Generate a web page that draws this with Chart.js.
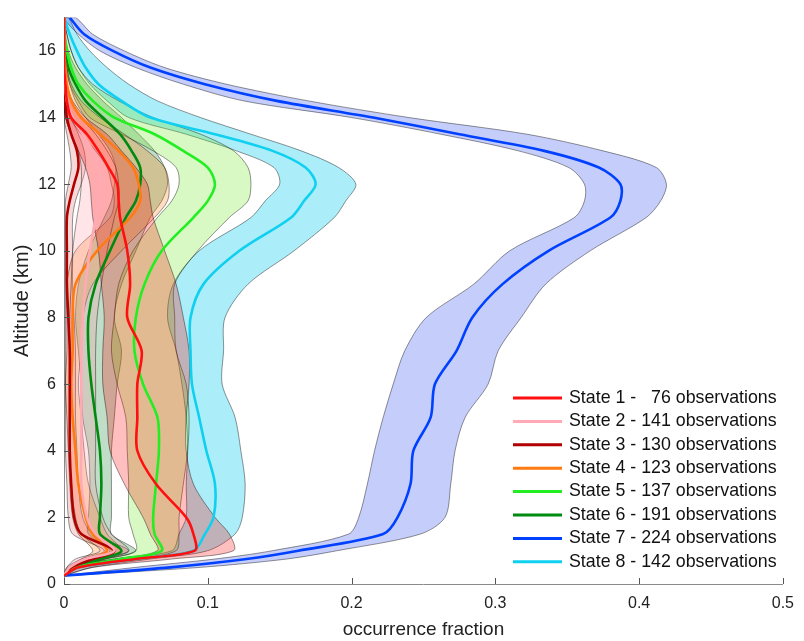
<!DOCTYPE html>
<html lang="en">
<head>
<meta charset="UTF-8" />
<title>Occurrence fraction vs altitude</title>
<script src="https://cdn.jsdelivr.net/npm/chart.js@4.4.1/dist/chart.umd.min.js"></script>
<style>
  html, body { margin: 0; padding: 0; background: #fff; }
  canvas { display: block; }
</style>
</head>
<body>
<canvas id="myChart" width="804" height="641"></canvas>
<script>
// altitude grid (km) shared by every profile
const altitude = [0.25, 0.5, 0.75, 1, 1.5, 2, 3, 4, 5, 6, 7, 8, 9, 10, 11, 11.5, 12, 12.5, 13, 13.5, 14, 14.5, 15, 15.5, 16, 16.5, 17];

// mean occurrence fraction per state, plus lower / upper edge of the shaded band
const state1Mean = [0, 0.01, 0.05, 0.091, 0.09, 0.085, 0.064, 0.051, 0.051, 0.051, 0.054, 0.044, 0.046, 0.044, 0.039, 0.038, 0.037, 0.031, 0.024, 0.016, 0.005, 0.002, 0.001, 0, 0, 0, 0];
const state1Low  = [0, 0.005, 0.035, 0.065, 0.06, 0.055, 0.042, 0.032, 0.03, 0.027, 0.027, 0.028, 0.026, 0.024, 0.02, 0.019, 0.018, 0.015, 0.01, 0.005, 0.001, 0, 0, 0, 0, 0, 0];
const state1High = [0, 0.02, 0.075, 0.118, 0.115, 0.105, 0.09, 0.085, 0.085, 0.087, 0.087, 0.083, 0.078, 0.07, 0.062, 0.06, 0.058, 0.05, 0.04, 0.03, 0.015, 0.006, 0.002, 0, 0, 0, 0];

const state2Mean = [0, 0.004, 0.015, 0.035, 0.022, 0.016, 0.012, 0.012, 0.012, 0.012, 0.012, 0.013, 0.015, 0.018, 0.022, 0.024, 0.025, 0.024, 0.02, 0.013, 0.006, 0.002, 0.001, 0, 0, 0, 0];
const state2Low  = [0, 0.002, 0.008, 0.025, 0.012, 0.008, 0.005, 0.004, 0.004, 0.004, 0.004, 0.004, 0.005, 0.006, 0.009, 0.011, 0.012, 0.012, 0.01, 0.005, 0.001, 0, 0, 0, 0, 0, 0];
const state2High = [0, 0.007, 0.022, 0.045, 0.033, 0.027, 0.022, 0.022, 0.022, 0.022, 0.022, 0.023, 0.026, 0.03, 0.035, 0.038, 0.038, 0.036, 0.03, 0.022, 0.012, 0.005, 0.002, 0.001, 0, 0, 0];

const state3Mean = [0, 0.005, 0.02, 0.035, 0.012, 0.007, 0.005, 0.004, 0.004, 0.004, 0.004, 0.003, 0.002, 0.002, 0.002, 0.004, 0.007, 0.01, 0.009, 0.005, 0.002, 0.001, 0, 0, 0, 0, 0];
const state3Low  = [0, 0.002, 0.012, 0.028, 0.006, 0.003, 0.002, 0.001, 0.001, 0.001, 0.001, 0.001, 0.001, 0.001, 0.001, 0.001, 0.003, 0.005, 0.004, 0.002, 0, 0, 0, 0, 0, 0, 0];
const state3High = [0, 0.008, 0.028, 0.045, 0.02, 0.013, 0.01, 0.009, 0.008, 0.008, 0.008, 0.007, 0.006, 0.006, 0.006, 0.008, 0.012, 0.015, 0.014, 0.01, 0.005, 0.002, 0.001, 0, 0, 0, 0];

const state4Mean = [0, 0.005, 0.018, 0.03, 0.02, 0.015, 0.01, 0.008, 0.006, 0.005, 0.006, 0.006, 0.008, 0.023, 0.046, 0.053, 0.052, 0.048, 0.038, 0.025, 0.012, 0.005, 0.002, 0.001, 0, 0, 0];
const state4Low  = [0, 0.003, 0.012, 0.02, 0.01, 0.006, 0.004, 0.003, 0.002, 0.001, 0.002, 0.002, 0.002, 0.008, 0.032, 0.035, 0.033, 0.03, 0.022, 0.012, 0.004, 0.001, 0, 0, 0, 0, 0];
const state4High = [0, 0.008, 0.025, 0.04, 0.03, 0.025, 0.017, 0.014, 0.012, 0.01, 0.012, 0.013, 0.02, 0.04, 0.063, 0.072, 0.073, 0.07, 0.058, 0.042, 0.025, 0.012, 0.005, 0.002, 0, 0, 0];

const state5Mean = [0, 0.008, 0.04, 0.068, 0.063, 0.062, 0.064, 0.066, 0.065, 0.055, 0.049, 0.05, 0.056, 0.068, 0.09, 0.1, 0.105, 0.1, 0.083, 0.063, 0.035, 0.02, 0.01, 0.005, 0.002, 0, 0];
const state5Low  = [0, 0.004, 0.028, 0.05, 0.048, 0.045, 0.045, 0.044, 0.043, 0.037, 0.033, 0.035, 0.038, 0.048, 0.065, 0.075, 0.08, 0.078, 0.062, 0.04, 0.018, 0.01, 0.004, 0.002, 0, 0, 0];
const state5High = [0, 0.012, 0.05, 0.078, 0.08, 0.08, 0.083, 0.086, 0.087, 0.085, 0.078, 0.077, 0.077, 0.093, 0.115, 0.128, 0.13, 0.128, 0.118, 0.095, 0.062, 0.038, 0.02, 0.01, 0.005, 0.002, 0];

const state6Mean = [0, 0.008, 0.025, 0.04, 0.025, 0.025, 0.026, 0.025, 0.022, 0.019, 0.017, 0.017, 0.022, 0.032, 0.043, 0.05, 0.053, 0.053, 0.047, 0.039, 0.027, 0.015, 0.008, 0.003, 0.001, 0, 0];
const state6Low  = [0, 0.005, 0.02, 0.032, 0.017, 0.017, 0.018, 0.017, 0.013, 0.012, 0.01, 0.008, 0.01, 0.017, 0.028, 0.033, 0.035, 0.036, 0.032, 0.024, 0.015, 0.008, 0.004, 0.001, 0, 0, 0];
const state6High = [0, 0.01, 0.03, 0.05, 0.033, 0.033, 0.033, 0.033, 0.035, 0.037, 0.04, 0.035, 0.04, 0.05, 0.06, 0.068, 0.072, 0.07, 0.063, 0.052, 0.04, 0.027, 0.016, 0.008, 0.003, 0.001, 0];

const state7Mean = [0, 0.074, 0.127, 0.163, 0.222, 0.232, 0.241, 0.243, 0.255, 0.258, 0.273, 0.284, 0.305, 0.337, 0.38, 0.387, 0.387, 0.372, 0.334, 0.275, 0.215, 0.148, 0.098, 0.06, 0.034, 0.014, 0.004];
const state7Low  = [0, 0.05, 0.105, 0.145, 0.198, 0.205, 0.211, 0.216, 0.222, 0.229, 0.237, 0.252, 0.285, 0.31, 0.355, 0.362, 0.362, 0.351, 0.316, 0.262, 0.2, 0.125, 0.083, 0.05, 0.025, 0.01, 0];
const state7High = [0.003, 0.095, 0.155, 0.19, 0.248, 0.265, 0.269, 0.272, 0.279, 0.295, 0.302, 0.318, 0.335, 0.366, 0.405, 0.415, 0.419, 0.412, 0.375, 0.322, 0.24, 0.17, 0.113, 0.07, 0.042, 0.02, 0.008];

const state8Mean = [0, 0.01, 0.05, 0.09, 0.098, 0.104, 0.105, 0.099, 0.094, 0.089, 0.088, 0.088, 0.097, 0.122, 0.158, 0.167, 0.175, 0.168, 0.145, 0.105, 0.06, 0.04, 0.024, 0.015, 0.009, 0.004, 0];
const state8Low  = [0, 0.005, 0.035, 0.075, 0.08, 0.085, 0.085, 0.086, 0.085, 0.082, 0.078, 0.072, 0.076, 0.094, 0.13, 0.14, 0.15, 0.146, 0.12, 0.085, 0.045, 0.03, 0.018, 0.01, 0.005, 0.002, 0];
const state8High = [0, 0.02, 0.06, 0.1, 0.119, 0.124, 0.126, 0.123, 0.119, 0.11, 0.111, 0.112, 0.128, 0.16, 0.188, 0.196, 0.203, 0.191, 0.165, 0.13, 0.095, 0.065, 0.045, 0.03, 0.018, 0.009, 0.003];

const stateNames = ["State 1", "State 2", "State 3", "State 4", "State 5", "State 6", "State 7", "State 8"];
const observations = [76, 141, 130, 123, 137, 191, 224, 142];

const means = [state1Mean, state2Mean, state3Mean, state4Mean, state5Mean, state6Mean, state7Mean, state8Mean];
const lows  = [state1Low, state2Low, state3Low, state4Low, state5Low, state6Low, state7Low, state8Low];
const highs = [state1High, state2High, state3High, state4High, state5High, state6High, state7High, state8High];

// styling
const lineColors = ["#ff1010", "#ffaab4", "#b00000", "#ff7a10", "#22ee22", "#008a10", "#0040ff", "#10d0f0"];
const bandColors = [
  "rgba(255,0,0,0.25)", "rgba(255,150,165,0.25)", "rgba(200,0,0,0.15)", "rgba(255,120,0,0.25)",
  "rgba(100,230,20,0.25)", "rgba(0,120,30,0.25)", "rgba(40,70,235,0.27)", "rgba(0,200,235,0.33)"
];
const FONT = "'Liberation Sans', Arial, Helvetica, sans-serif";

function profile(xs) {
  return xs.map((x, i) => ({ x: x, y: altitude[i] }));
}
function bandShape(lo, hi) {
  const pts = hi.map((x, i) => ({ x: x, y: altitude[i] }));
  for (let i = lo.length - 1; i >= 0; i--) pts.push({ x: lo[i], y: altitude[i] });
  pts.push(pts[0]);
  return pts;
}

const datasets = [];
// lines first so they are drawn on top
means.forEach((m, i) => {
  datasets.push({
    data: profile(m),
    borderColor: lineColors[i],
    borderWidth: 2.6,
    pointRadius: 0,
    tension: 0.3,
    fill: false
  });
});
means.forEach((m, i) => {
  datasets.push({
    data: bandShape(lows[i], highs[i]),
    borderColor: "rgba(0,0,0,0.6)",
    borderWidth: 0.7,
    backgroundColor: bandColors[i],
    pointRadius: 0,
    tension: 0.3,
    fill: "shape"
  });
});

// inward tick marks + legend drawn inside the plot
const decorations = {
  id: "decorations",
  afterDraw(chart) {
    const { ctx, chartArea: a, scales: { x, y } } = chart;
    ctx.save();
    ctx.strokeStyle = "#555";
    ctx.lineWidth = 1;
    ctx.beginPath();
    x.ticks.forEach(t => {
      const px = Math.round(x.getPixelForValue(t.value)) + 0.5;
      ctx.moveTo(px, a.bottom);
      ctx.lineTo(px, a.bottom - 6);
    });
    y.ticks.forEach(t => {
      const py = Math.round(y.getPixelForValue(t.value)) + 0.5;
      ctx.moveTo(a.left, py);
      ctx.lineTo(a.left + 6, py);
    });
    ctx.stroke();

    // legend
    ctx.font = "17.8px " + FONT;
    ctx.fillStyle = "#111";
    ctx.textBaseline = "middle";
    const lx = 513, tx = 569, ly = 398, step = 23.4;
    const prefixW = ctx.measureText("State 8 - ").width;
    const numW = ctx.measureText("141").width;
    stateNames.forEach((name, i) => {
      const yy = ly + i * step;
      ctx.strokeStyle = lineColors[i];
      ctx.lineWidth = 3;
      ctx.beginPath();
      ctx.moveTo(lx, yy);
      ctx.lineTo(lx + 49, yy);
      ctx.stroke();
      ctx.textAlign = "left";
      ctx.fillText(name + " -", tx, yy);
      ctx.textAlign = "right";
      ctx.fillText(String(observations[i]), tx + prefixW + numW, yy);
      ctx.textAlign = "left";
      ctx.fillText("observations", tx + prefixW + numW + ctx.measureText(" ").width, yy);
    });
    ctx.restore();
  }
};

const ctx = document.getElementById("myChart").getContext("2d");
const myChart = new Chart(ctx, {
  type: "line",
  data: { datasets: datasets },
  plugins: [decorations],
  options: {
    responsive: false,
    animation: false,
    events: [],
    devicePixelRatio: 1,
    layout: { padding: { top: 12, right: 18, left: 0, bottom: 0 } },
    plugins: { legend: { display: false }, tooltip: { enabled: false } },
    scales: {
      x: {
        type: "linear",
        min: 0,
        max: 0.5,
        grid: { display: false, drawTicks: false },
        border: { display: true, color: "#8a8a8a", width: 1 },
        ticks: { stepSize: 0.1, padding: 10, color: "#222", font: { family: FONT, size: 16 } },
        title: { display: true, text: "occurrence fraction", color: "#222", font: { family: FONT, size: 19 }, padding: { top: 0, bottom: 0 } },
        afterFit: s => { s.height = 57; }
      },
      y: {
        type: "linear",
        min: 0,
        max: 17,
        grid: { display: false, drawTicks: false },
        border: { display: true, color: "#8a8a8a", width: 1 },
        ticks: { stepSize: 2, includeBounds: false, padding: 8, color: "#222", font: { family: FONT, size: 16 } },
        title: { display: true, text: "Altitude (km)", color: "#222", font: { family: FONT, size: 20 }, padding: { top: 10, bottom: 0 } },
        afterFit: s => { s.width = 64; }
      }
    }
  }
});
</script>
</body>
</html>
